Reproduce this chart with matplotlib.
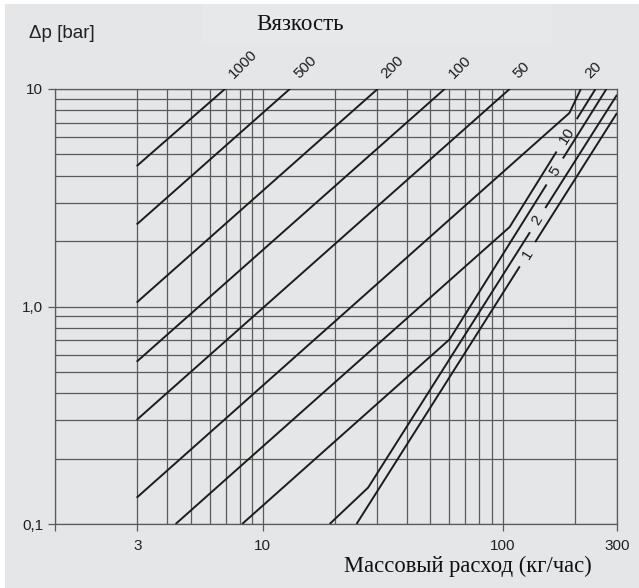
import numpy as np
import matplotlib
matplotlib.use("Agg")
import matplotlib.pyplot as plt
from matplotlib.ticker import FixedLocator, FixedFormatter
from matplotlib.patches import Rectangle

# ---------------- data ----------------
# Mass flow (kg/h) and pressure drop (bar) vertices of each viscosity curve
flow_1000 = [3.0, 6.95]
dp_1000 = [4.45, 10.0]
flow_500 = [3.0, 12.96]
dp_500 = [2.40, 10.0]
flow_200 = [3.0, 30.1]
dp_200 = [1.05, 10.0]
flow_100 = [3.0, 57.3]
dp_100 = [0.561, 10.0]
flow_50 = [3.0, 107.0]
dp_50 = [0.303, 10.0]
flow_20 = [3.0, 190.0, 212.0]
dp_20 = [0.133, 7.76, 10.0]
flow_10 = [4.33, 107.0, 244.0]
dp_10 = [0.10, 2.32, 10.0]
flow_5 = [8.20, 60.1, 271.0]
dp_5 = [0.10, 0.706, 10.0]
flow_2 = [19.0, 27.5, 300.0]
dp_2 = [0.10, 0.147, 9.4]
flow_1 = [24.6, 300.0]
dp_1 = [0.10, 7.76]

curve_names = ["1000", "500", "200", "100", "50", "20", "10", "5", "2", "1"]
top_labelled = ["1000", "500", "200", "100", "50", "20"]
inline_labelled = ["10", "5", "2", "1"]

x_major = [3, 10, 100, 300]
x_major_labels = ["3", "10", "100", "300"]
y_major = [0.1, 1.0, 10.0]
y_major_labels = ["0,1", "1,0", "10"]

title_text = "Вязкость"
ylabel_text = "\u0394p [bar]"
xlabel_text = "Массовый расход (кг/час)"

curves = {
    "1000": (flow_1000, dp_1000), "500": (flow_500, dp_500),
    "200": (flow_200, dp_200), "100": (flow_100, dp_100),
    "50": (flow_50, dp_50), "20": (flow_20, dp_20),
    "10": (flow_10, dp_10), "5": (flow_5, dp_5),
    "2": (flow_2, dp_2), "1": (flow_1, dp_1),
}

# ---------------- style / layout ----------------
BG = "#e5e6e7"
GRID = "#5a5a5a"
INK = "#1c1c1c"
SANS = "Liberation Sans"
SERIF = "Liberation Serif"
W, H = 639, 588

# label positions along the steep curves (flow value) and gap half width (log10)
inline_pos = {"10": 185.0, "5": 165.0, "2": 140.0, "1": 127.0}
gap_half = {"10": 0.042, "5": 0.034, "2": 0.032, "1": 0.032}

fig = plt.figure(figsize=(W / 100, H / 100), dpi=100, facecolor=BG)
fig.patches.append(Rectangle((0, 1 - 4 / H), 1, 4 / H, transform=fig.transFigure,
                             facecolor="white", edgecolor="none", zorder=-5))
fig.patches.append(Rectangle((0, 0), 5 / W, 1, transform=fig.transFigure,
                             facecolor="white", edgecolor="none", zorder=-5))
fig.patches.append(Rectangle((203 / W, 1 - 43 / H), (552 - 203) / W, 39 / H,
                             transform=fig.transFigure, facecolor="#e7e8e9",
                             edgecolor="none", zorder=-4))

x0, x1, y0, y1 = 55, 617, 89, 524
ax = fig.add_axes([x0 / W, 1 - y1 / H, (x1 - x0) / W, (y1 - y0) / H])
ax.set_facecolor(BG)
ax.set_xscale("log")
ax.set_yscale("log")
ax.set_xlim(1.36, 300)
ax.set_ylim(0.1, 10)

# ticks and grid
ax.xaxis.set_major_locator(FixedLocator([1.36] + x_major))
ax.xaxis.set_major_formatter(FixedFormatter([""] + x_major_labels))
x_minor = [4, 5, 6, 7, 8, 9, 20, 30, 40, 50, 60, 70, 80, 90, 200]
ax.xaxis.set_minor_locator(FixedLocator(x_minor))
ax.yaxis.set_major_locator(FixedLocator(y_major))
ax.yaxis.set_major_formatter(FixedFormatter(y_major_labels))
y_minor = [0.2, 0.3, 0.4, 0.5, 0.6, 0.7, 0.8, 0.9, 2, 3, 4, 5, 6, 7, 8, 9]
ax.yaxis.set_minor_locator(FixedLocator(y_minor))
ax.grid(True, which="both", color=GRID, linewidth=0.9)
ax.set_axisbelow(True)
ax.tick_params(which="major", length=5, width=0.9, color=GRID,
               labelsize=11, labelcolor="#222222")
ax.tick_params(axis="x", which="major", pad=6)
ax.tick_params(axis="y", which="major", pad=3.5)
ax.tick_params(which="minor", length=0)
for lab in ax.get_xticklabels() + ax.get_yticklabels():
    lab.set_fontfamily(SANS)
for s in ax.spines.values():
    s.set_color(GRID)
    s.set_linewidth(0.9)


def logy_at(xs, ys, q):
    return 10 ** np.interp(np.log10(q), np.log10(xs), np.log10(ys))


def disp_angle(xs, ys, q):
    a = ax.transData.transform((q / 1.05, logy_at(xs, ys, q / 1.05)))
    b = ax.transData.transform((q * 1.05, logy_at(xs, ys, q * 1.05)))
    return np.degrees(np.arctan2(b[1] - a[1], b[0] - a[0]))


for name in curve_names:
    xs, ys = curves[name]
    xs = np.asarray(xs, float)
    ys = np.asarray(ys, float)
    if name in inline_labelled:
        q = inline_pos[name]
        lq = np.log10(q)
        qa, qb = 10 ** (lq - gap_half[name]), 10 ** (lq + gap_half[name])
        m1 = xs < qa
        m2 = xs > qb
        seg1x = np.append(xs[m1], qa)
        seg1y = np.append(ys[m1], logy_at(xs, ys, qa))
        seg2x = np.insert(xs[m2], 0, qb)
        seg2y = np.insert(ys[m2], 0, logy_at(xs, ys, qb))
        ax.plot(seg1x, seg1y, color=INK, lw=1.4, solid_capstyle="butt", zorder=3)
        ax.plot(seg2x, seg2y, color=INK, lw=1.4, solid_capstyle="butt", zorder=3)
        ang = disp_angle(xs, ys, q)
        ax.text(q, logy_at(xs, ys, q), name, rotation=ang, rotation_mode="anchor",
                ha="center", va="center", fontsize=11, family=SANS,
                color=INK, zorder=4)
    else:
        ax.plot(xs, ys, color=INK, lw=1.4, zorder=3, clip_on=True)

for name in top_labelled:
    xs, ys = curves[name]
    ax.annotate(name, xy=(xs[-1], 10.0), xytext=(4.5, 9.5),
                textcoords="offset points", rotation=45,
                rotation_mode="anchor", ha="left", va="center",
                fontsize=11, family=SANS, color=INK, annotation_clip=False)

fig.text(29 / W, 1 - 33 / H, ylabel_text, ha="left", va="center",
         fontsize=13.5, family=SANS, color="#222222")
fig.text(300 / W, 1 - 25 / H, title_text, ha="center", va="center",
         fontsize=16.5, family=SERIF, color="#111111")
fig.text(468 / W, 1 - 566 / H, xlabel_text, ha="center", va="center",
         fontsize=16.3, family=SERIF, color="#111111")

fig.savefig("out.png", dpi=100, facecolor=BG)
